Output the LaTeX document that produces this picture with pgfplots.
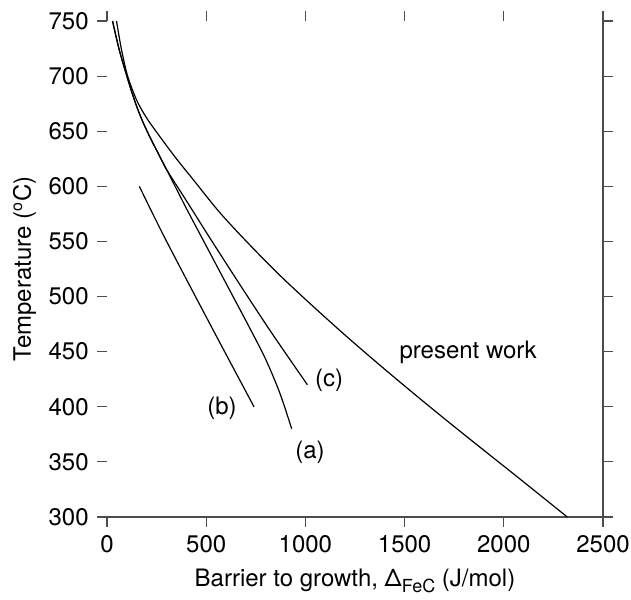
\documentclass[border=0pt]{standalone}
\usepackage{fontspec}
\setmainfont{TeX Gyre Heros}
\usepackage{pgfplots}
\pgfplotsset{compat=1.18}
\begin{document}
\fontsize{12}{14}\selectfont
\begin{tikzpicture}
\begin{axis}[
  scale only axis, width=248pt, height=248pt,
  xmin=0, xmax=2500, ymin=300, ymax=750,
  xtick={0,500,...,2500}, ytick={300,350,...,750},
  tick align=outside, major tick length=5pt,
  xtick pos=both, ytick pos=both,
  xticklabel pos=lower, yticklabel pos=left,
  axis line style={draw=none},
  tick style={line width=0.6pt, color=black!70},
  /pgf/number format/assume math mode=true,
  /pgf/number format/1000 sep={},
  tick label style={font=\fontsize{12}{14}\selectfont},
  label style={font=\fontsize{12}{14}\selectfont},
  xlabel={Barrier to growth, \char"0394\raisebox{-3pt}{\fontsize{9}{10}\selectfont FeC} (J/mol)},
  ylabel={Temperature (\textsuperscript{o}C)},
  ylabel style={yshift=-2pt},
  clip=false,
]
\coordinate (SW) at (rel axis cs:0,0);
\coordinate (NE) at (rel axis cs:1,1);
\draw[black!70, line width=0.6pt] (rel axis cs:0,0) -- (rel axis cs:1,0) -- (rel axis cs:1,1);
% present work
\addplot[black, line width=0.6pt, smooth] coordinates {
(48,750)(72,725)(104,700)(150,678)(200,662)(267,645)(350,625)(435,606)(560,578)(687,553)(850,523)(1000,497.5)(1200,465)(1400,434)(1600,404)(1800,374.8)(2050,339)(2320,300)};
% (a)
\addplot[black, line width=0.6pt, smooth] coordinates {
(28,750)(60,725)(100,700)(135,680)(170,663)(210,647)(255,631)(301,615)(400,580)(500,546)(600,512)(712,474)(800,443)(872,412)(931,380)};
% (c)
\addplot[black, line width=0.6pt, smooth] coordinates {
(28,750)(60,725)(100,700)(135,680)(170,663)(210,647)(255,631)(301,615)(400,587)(519,553)(680,508)(830,467)(1010,420)};
% (b)
\addplot[black, line width=0.6pt, smooth] coordinates {
(163,600)(292,553)(528,472)(741,400)};
\node at (axis cs:1820,449) {present work};
\node at (axis cs:1120,424) {(c)};
\node at (axis cs:580,399) {(b)};
\node at (axis cs:1023,359) {(a)};
\end{axis}
\pgfresetboundingbox
\path[use as bounding box] ([shift={(-53.5pt,-41pt)}]SW) rectangle ([shift={(14pt,10.5pt)}]NE);
\end{tikzpicture}
\end{document}
